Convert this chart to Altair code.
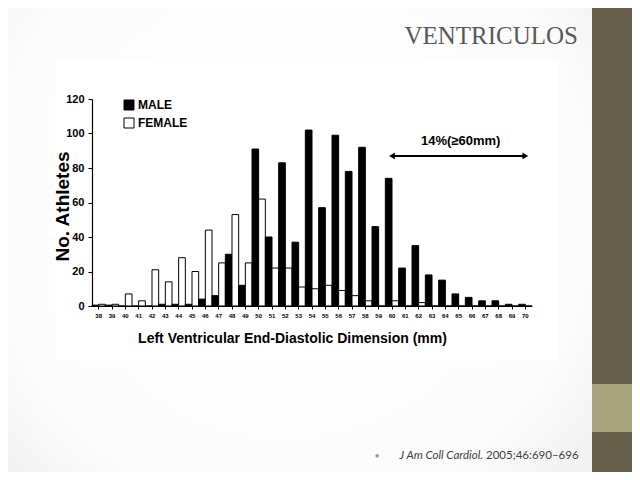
import altair as alt
import pandas as pd

# ---------------- data ----------------
dims = ["38", "39", "40", "41", "42", "43", "44", "45", "46", "47", "48",
        "49", "50", "51", "52", "53", "54", "55", "56", "57", "58", "59",
        "60", "61", "62", "63", "64", "65", "66", "67", "68", "69", "70"]
male = [0.5, 0.5, 0, 0, 0, 1, 1, 1, 4, 6, 30, 12, 91, 40, 83, 37, 102, 57,
        99, 78, 92, 46, 74, 22, 35, 18, 15, 7, 5, 3, 3, 1, 1]
female = [1, 1, 7, 3, 21, 14, 28, 20, 44, 25, 53, 25, 62, 22, 22, 11, 10, 12,
          9, 6, 3, 0, 3, 0, 2, 0, 0, 0, 0, 0, 0, 0, 0]
series = ["MALE", "FEMALE"]
y_ticks = [0, 20, 40, 60, 80, 100, 120]

note_text = "14%(≥60mm)"
note_dim = "65"
note_y = 95.5
arrow_from = "60"
arrow_to = "70"
arrow_y = 87

slide_title = "VENTRICULOS"
cite_italic = "J Am Coll Cardiol."
cite_plain = "2005;46:690–696"

rows = []
for d, m, f in zip(dims, male, female):
    rows.append({"dim": d, "sex": "MALE", "n": m})
    rows.append({"dim": d, "sex": "FEMALE", "n": f})
bars_df = pd.DataFrame(rows)
one = pd.DataFrame({"k": [0]})

SANS = "Liberation Sans"

x_scale = alt.Scale(domain=dims, paddingInner=0, paddingOuter=0)
y_scale = alt.Scale(domain=[0, 120], nice=False)

x_axis = alt.Axis(
    title="Left Ventricular End-Diastolic Dimension (mm)",
    titleFont=SANS, titleFontSize=14, titleFontWeight="bold", titleColor="black",
    titleX=200, titleY=32, titleAlign="center", titleBaseline="middle",
    labelFont=SANS, labelFontSize=6, labelFontWeight="bold", labelColor="black",
    labelAngle=0, labelPadding=3, tickSize=3, tickColor="black",
    labelOverlap=False, domainColor="black", domainWidth=1.2, grid=False, zindex=2)
y_axis = alt.Axis(
    title="No. Athletes", values=y_ticks, labelOverlap=False,
    titleFont=SANS, titleFontSize=19, titleFontWeight="bold", titleColor="black",
    titleX=-30, titleY=107, titleAngle=270, titleAlign="center", titleBaseline="middle",
    labelFont=SANS, labelFontSize=11, labelFontWeight="bold", labelColor="black",
    labelPadding=4, tickSize=4, tickColor="black",
    domainColor="black", domainWidth=1.2, grid=False, zindex=2)

# ---------------- slide decoration ----------------
bg = alt.Chart(one).mark_rect(
    color={"gradient": "radial",
           "stops": [{"offset": 0, "color": "#ffffff"},
                     {"offset": 0.6, "color": "#fcfcfc"},
                     {"offset": 1, "color": "#e4e4e4"}],
           "x1": 0.45, "y1": 0.45, "x2": 0.45, "y2": 0.45, "r1": 0, "r2": 0.8}
).encode(x=alt.value(-84), x2=alt.value(540), y=alt.value(-91), y2=alt.value(373))

img = alt.Chart(one).mark_rect(color="#ffffff").encode(
    x=alt.value(-37), x2=alt.value(466), y=alt.value(-37), y2=alt.value(262))

side_dark = alt.Chart(one).mark_rect(color="#655E4A").encode(
    x=alt.value(500), x2=alt.value(548), y=alt.value(-99), y2=alt.value(381))
side_light = alt.Chart(one).mark_rect(color="#A8A580").encode(
    x=alt.value(500), x2=alt.value(548), y=alt.value(285), y2=alt.value(333))

title_t = alt.Chart(one).mark_text(
    font="Liberation Serif", fontSize=25, color="#595959",
    align="right", baseline="alphabetic"
).encode(x=alt.value(486), y=alt.value(-55), text=alt.value(slide_title))

bullet = alt.Chart(one).mark_text(
    font="Lato", fontSize=9, color="#9c9a86", align="center", baseline="middle"
).encode(x=alt.value(285), y=alt.value(357), text=alt.value("•"))
cite1 = alt.Chart(one).mark_text(
    font="Lato", fontSize=11.5, fontStyle="italic", color="#404040",
    align="right", baseline="middle"
).encode(x=alt.value(391), y=alt.value(357), text=alt.value(cite_italic))
cite2 = alt.Chart(one).mark_text(
    font="Lato", fontSize=11.5, color="#404040", align="left", baseline="middle"
).encode(x=alt.value(394), y=alt.value(357), text=alt.value(cite_plain))

# ---------------- bars ----------------
bars = alt.Chart(bars_df).mark_bar(stroke="black", strokeWidth=1).encode(
    x=alt.X("dim:O", sort=dims, scale=x_scale, axis=x_axis),
    xOffset=alt.XOffset("sex:N", sort=series, scale=alt.Scale(paddingInner=0, paddingOuter=0)),
    y=alt.Y("n:Q", scale=y_scale, axis=y_axis),
    fill=alt.Fill("sex:N", sort=series,
                  scale=alt.Scale(domain=series, range=["#000000", "#ffffff"]),
                  legend=alt.Legend(title=None, orient="none", legendX=31, legendY=0,
                                    symbolType="square", symbolSize=100,
                                    symbolStrokeColor="black", symbolStrokeWidth=1,
                                    labelFont=SANS, labelFontSize=12, labelFontWeight="bold",
                                    labelColor="black", labelOffset=3, rowPadding=4,
                                    zindex=2)),
)

# ---------------- annotation ----------------
arrow_df = pd.DataFrame({"dim": [arrow_from], "dim2": [arrow_to], "y": [arrow_y]})
heads_df = pd.DataFrame({"dim": [arrow_from, arrow_to], "y": [arrow_y, arrow_y],
                         "shape": ["triangle-left", "triangle-right"]})
note_df = pd.DataFrame({"dim": [note_dim], "y": [note_y], "t": [note_text]})

arrow = alt.Chart(arrow_df).mark_rule(color="black", strokeWidth=2).encode(
    x=alt.X("dim:O", sort=dims, scale=x_scale, axis=x_axis), x2="dim2",
    y=alt.Y("y:Q", scale=y_scale, axis=y_axis))
heads = alt.Chart(heads_df).mark_point(filled=True, color="black", size=45, opacity=1).encode(
    x=alt.X("dim:O", sort=dims, scale=x_scale, axis=x_axis),
    y=alt.Y("y:Q", scale=y_scale, axis=y_axis),
    shape=alt.Shape("shape:N", scale=None, legend=None))
note = alt.Chart(note_df).mark_text(
    font=SANS, fontSize=13, fontWeight="bold", color="black", dx=2
).encode(x=alt.X("dim:O", sort=dims, scale=x_scale, axis=x_axis),
         y=alt.Y("y:Q", scale=y_scale, axis=y_axis), text="t:N")

chart = alt.layer(
    bg, img, side_dark, side_light, bars, arrow, heads, note,
    title_t, bullet, cite1, cite2
).properties(
    width=440, height=207,
    autosize=alt.AutoSizeParams(type="none"),
    padding={"left": 84, "top": 91, "right": 100, "bottom": 166},
    background="#ffffff",
).configure_view(stroke=None)

chart.save("out.html", embed_options={"renderer": "svg", "actions": False})
